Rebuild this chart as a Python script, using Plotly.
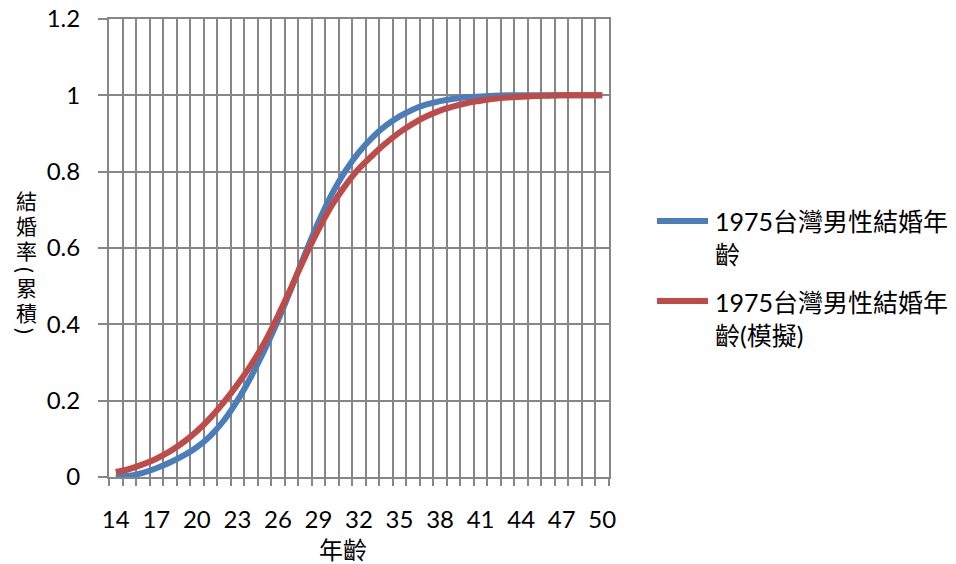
import plotly.graph_objects as go

# Cumulative marriage rate of Taiwanese men, 1975, by age
ages = list(range(14, 51))
series_names = ["1975台灣男性結婚年齡", "1975台灣男性結婚年齡(模擬)"]
observed = [0.004, 0.003, 0.011, 0.023, 0.038, 0.056, 0.078, 0.108, 0.148, 0.200,
            0.262, 0.332, 0.410, 0.495, 0.584, 0.668, 0.742, 0.802, 0.851, 0.890,
            0.921, 0.945, 0.963, 0.976, 0.985, 0.991, 0.995, 0.997, 0.999, 1.0,
            1.0, 1.0, 1.0, 1.0, 1.0, 1.0, 1.0]
modeled = [0.013, 0.021, 0.033, 0.048, 0.067, 0.091, 0.120, 0.155, 0.196, 0.242,
           0.293, 0.352, 0.422, 0.498, 0.576, 0.648, 0.712, 0.764, 0.808, 0.843,
           0.875, 0.903, 0.926, 0.945, 0.960, 0.971, 0.980, 0.986, 0.991, 0.994,
           0.996, 0.998, 0.999, 1.0, 1.0, 1.0, 1.0]
x_tick_values = list(range(14, 51, 3))
x_title = "年齡"
y_title = "結婚率(累積)"

W, H = 956, 564
L, R, T, B = 109, 347, 19, 87
PW, PH = W - L - R, H - T - B

GRID = "#878787"
COLORS = ["#4A7EBB", "#BE4B48"]
FONT = "Lato, 'Noto Sans CJK TC', sans-serif"


def px_x(px):
    return (px - L) / PW


def px_y(py):
    return (H - B - py) / PH


fig = go.Figure()
for name, vals, col in zip(series_names, [observed, modeled], COLORS):
    fig.add_trace(go.Scatter(x=ages, y=vals, name=name, mode="lines",
                             line=dict(color=col, width=6, shape="spline", smoothing=1),
                             showlegend=False))

# legend drawn beside the plot: a short line swatch plus wrapped label
legend_rows = [(221, 238), (301, 318)]
for (line_y, text_y), name, col in zip(legend_rows, series_names, COLORS):
    fig.add_shape(type="line", xref="paper", yref="paper",
                  x0=px_x(657), x1=px_x(708), y0=px_y(line_y), y1=px_y(line_y),
                  line=dict(color=col, width=6))
    fig.add_annotation(xref="paper", yref="paper", x=px_x(713), y=px_y(text_y),
                       xanchor="left", yanchor="middle", align="left", showarrow=False,
                       text=name.replace("齡", "<br>齡"),
                       font=dict(family=FONT, size=25, color="black"))

# upright vertical axis title: one glyph per row, brackets turned sideways
y_char_pos = [200, 225, 250, 270, 287, 312, 331]
for ch, py in zip(y_title, y_char_pos):
    bracket = ch in "()"
    fig.add_annotation(xref="paper", yref="paper", x=px_x(26), y=px_y(py),
                       xanchor="center", yanchor="middle", showarrow=False, text=ch,
                       textangle=90 if bracket else 0,
                       font=dict(family=FONT, size=22 if bracket else 21, color="black"))

fig.add_annotation(xref="paper", yref="paper", x=px_x(343), y=px_y(549),
                   xanchor="center", yanchor="middle", showarrow=False, text=x_title,
                   font=dict(family=FONT, size=24, color="black"))

fig.update_layout(
    width=W, height=H, autosize=False,
    margin=dict(l=L, r=R, t=T, b=B, pad=0),
    paper_bgcolor="white", plot_bgcolor="white",
    font=dict(family=FONT, size=24, color="black"),
    xaxis=dict(range=[13.5, 50.5], tickmode="array", tickvals=x_tick_values,
               ticktext=[str(v) for v in x_tick_values], ticks="", showgrid=False,
               zeroline=False, showline=True, linecolor=GRID, linewidth=2, mirror=True,
               ticklabelstandoff=20, automargin=False,
               minor=dict(tick0=13.5, dtick=1, showgrid=True, gridcolor=GRID, gridwidth=2,
                          ticks="outside", ticklen=7, tickwidth=2, tickcolor=GRID)),
    yaxis=dict(range=[0, 1.2], dtick=0.2, tick0=0, ticks="outside", ticklen=9,
               tickwidth=2, tickcolor=GRID, showgrid=True, gridcolor=GRID, gridwidth=2,
               zeroline=False, showline=True, linecolor=GRID, linewidth=2, mirror=True,
               ticklabelstandoff=13, automargin=False),
)

fig.write_html("out.html")
